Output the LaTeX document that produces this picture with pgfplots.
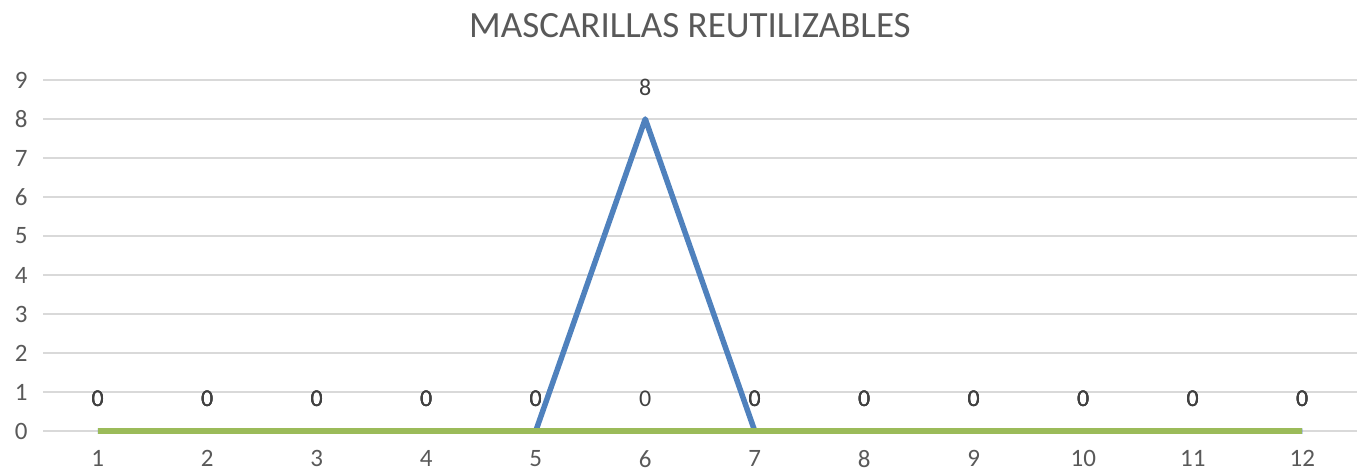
\documentclass[border=0pt]{standalone}
\usepackage{fontspec}
\setmainfont{Carlito}
\usepackage{pgfplots}
\pgfplotsset{compat=1.18}
\definecolor{tickgray}{HTML}{595959}
\definecolor{labgray}{HTML}{404040}
\definecolor{gridgray}{HTML}{D9D9D9}
\definecolor{sblue}{HTML}{4F81BD}
\definecolor{sred}{HTML}{C0504D}
\definecolor{sgreen}{HTML}{9BBB59}
\begin{document}
\begin{tikzpicture}
\begin{axis}[
  scale only axis, width=1314pt, height=351pt,
  xmin=0.5, xmax=12.5, ymin=0, ymax=9,
  xtick={1,...,12}, ytick={0,...,9},
  axis line style={draw=none},
  major tick length=0pt,
  ymajorgrids, grid style={gridgray, line width=1.4pt},
  tick label style={font=\fontsize{25}{28}\selectfont, text=tickgray},
  xticklabel style={yshift=-18pt, inner sep=1pt},
  yticklabel style={xshift=-12pt},
  /pgf/number format/assume math mode=true,
  clip=false,
  nodes near coords,
  every node near coord/.append style={font=\fontsize{24}{28}\selectfont, text=labgray, anchor=center, yshift=32pt},
  title={MASCARILLAS REUTILIZABLES},
  title style={at={(0.5,1)}, anchor=center, yshift=48pt, xshift=-10pt, font=\fontsize{37}{44}\selectfont, text=tickgray},
  every axis plot/.append style={line width=5.5pt, line join=round, mark=none},
]
\addplot[sblue] coordinates {(1,0)(2,0)(3,0)(4,0)(5,0)(6,8)(7,0)(8,0)(9,0)(10,0)(11,0)(12,0)};
\addplot[sred] coordinates {(1,0)(2,0)(3,0)(4,0)(5,0)(7,0)(8,0)(9,0)(10,0)(11,0)(12,0)};
\addplot[sgreen] coordinates {(1,0)(2,0)(3,0)(4,0)(5,0)(6,0)(7,0)(8,0)(9,0)(10,0)(11,0)(12,0)};
\end{axis}
\pgfresetboundingbox
\path ([shift={(-43pt,-43pt)}]current axis.south west) rectangle ([shift={(3pt,80pt)}]current axis.north east);
\end{tikzpicture}
\end{document}
